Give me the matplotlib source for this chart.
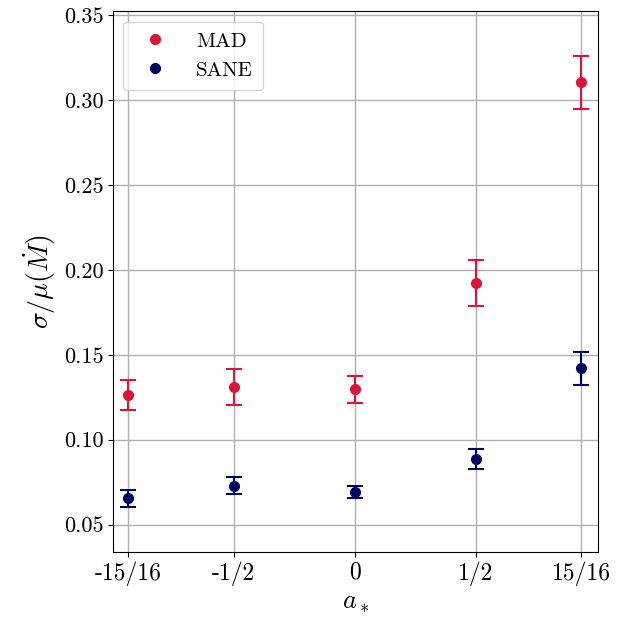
import matplotlib
matplotlib.use('Agg')
import matplotlib.pyplot as plt
import numpy as np

plt.rcParams['font.family'] = 'serif'
plt.rcParams['font.serif'] = ['cmr10', 'DejaVu Serif']
plt.rcParams['mathtext.fontset'] = 'cm'
plt.rcParams['axes.formatter.use_mathtext'] = True

# spin values and labels
spins = [-15/16, -1/2, 0, 1/2, 15/16]
spin_labels = ['-15/16', '-1/2', '0', '1/2', '15/16']

# sigma / mu of accretion rate
mad_vals = [0.1261, 0.1312, 0.1297, 0.1924, 0.3105]
mad_err = [0.0088, 0.0107, 0.0080, 0.0135, 0.0157]
sane_vals = [0.0654, 0.0730, 0.0691, 0.0888, 0.1420]
sane_err = [0.0048, 0.0052, 0.0037, 0.0059, 0.0097]

mad_col = '#dc143c'
sane_col = '#000060'

fig, ax = plt.subplots(figsize=(6.42, 6.22), dpi=100)

ax.errorbar(spins, mad_vals, yerr=mad_err, fmt='none', ecolor=mad_col,
            capsize=6, elinewidth=1.5, capthick=1.5, zorder=3)
ax.plot(spins, mad_vals, 'o', color=mad_col, ms=7, label='MAD', zorder=4)
ax.errorbar(spins, sane_vals, yerr=sane_err, fmt='none', ecolor=sane_col,
            capsize=6, elinewidth=1.5, capthick=1.5, zorder=3)
ax.plot(spins, sane_vals, 'o', color=sane_col, ms=7, label='SANE', zorder=4)

ax.set_xticks(spins)
ax.set_xticklabels(spin_labels, fontsize=17)
ax.set_xlim(-1.0, 1.005)
ax.set_ylim(0.034, 0.3524)
ax.set_yticks([0.05, 0.10, 0.15, 0.20, 0.25, 0.30, 0.35])
ax.set_yticklabels(['0.05', '0.10', '0.15', '0.20', '0.25', '0.30', '0.35'], fontsize=16)
ax.grid(True, color='#b0b0b0', linewidth=1.0)
ax.set_axisbelow(True)

ax.set_xlabel(r'$a_*$', fontsize=19)
ax.set_ylabel(r'$\sigma/\mu(\dot{M})$', fontsize=20)

ax.legend(loc='upper left', fontsize=15, handletextpad=1.0, borderpad=0.5)

fig.subplots_adjust(left=0.176, right=0.931, top=0.982, bottom=0.113)
fig.savefig('out.png', dpi=100)
